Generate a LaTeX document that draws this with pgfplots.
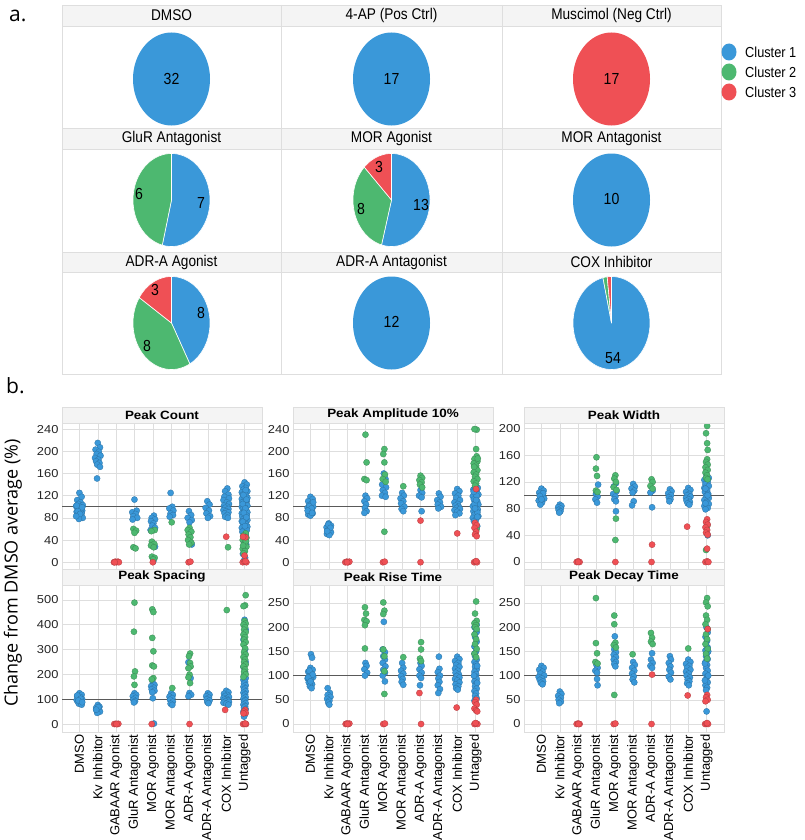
\documentclass[border=0pt]{standalone}
\usepackage{fontspec}
\setmainfont{Liberation Sans}
\newfontfamily\condfont[FakeStretch=0.88]{Liberation Sans}
\newfontfamily\widefont[FakeStretch=1.12]{Liberation Sans}
\newfontfamily\labfont{Open Sans}
\usepackage{pgfplots}
\pgfplotsset{compat=1.18}
\definecolor{cA}{HTML}{3A98D9}
\definecolor{cB}{HTML}{4DB870}
\definecolor{cC}{HTML}{EF5055}
\definecolor{hdr}{HTML}{F4F4F4}
\definecolor{gridc}{HTML}{DEDEDE}
\newcommand{\fs}[1]{\fontsize{#1}{#1}\selectfont}
% pie wedge from angle #3 to #4 (ascending), centre (#1,#2), colour #5
\newcommand{\wedgeP}[5]{\addplot[fill=#5, draw=white, line width=0.6pt, domain=#3:#4, samples=73, variable=\t] ({#1+38.5*cos(\t)},{#2+46.5*sin(\t)}) -- (axis cs:#1,#2) -- cycle;}
\newcommand{\fullP}[3]{\addplot[fill=#3, draw=none, domain=0:360, samples=121, variable=\t] ({#1+38.5*cos(\t)},{#2+46.5*sin(\t)}) -- cycle;}
\pgfplotsset{
  strip/.style={scale only axis, width=200pt, height=147pt, xmin=-0.95, xmax=9.95,
    xtick={0,...,9}, grid=major, major grid style={draw=gridc, line width=0.5pt},
    axis line style={draw=gridc}, major tick length=0pt,
    /pgf/number format/assume math mode=true,
    yticklabel style={font=\widefont\fs{11.5}, text=black!85},
    every axis title/.style={at={(0.5,1)}, anchor=south, yshift=0pt, fill=hdr, draw=gridc,
      minimum width=200pt, minimum height=16pt, inner sep=0pt, font=\widefont\bfseries\fs{12}}},
  toprow/.style={xticklabels={}},
  botrow/.style={xticklabels={DMSO, Kv Inhibitor, GABAAR Agonist, GluR Antagonist, MOR Agonist, MOR Antagonist, ADR-A Agonist, ADR-A Antagonist, COX Inhibitor, Untagged},
    xticklabel style={rotate=90, anchor=east, font=\fs{13}, text=black, inner sep=2.5pt}},
  pA/.style={only marks, mark=*, mark size=3.1pt, mark options={fill=cA, draw=cA!75!black, line width=0.3pt}},
  pB/.style={only marks, mark=*, mark size=3.1pt, mark options={fill=cB, draw=cB!75!black, line width=0.3pt}},
  pC/.style={only marks, mark=*, mark size=3.1pt, mark options={fill=cC, draw=cC!75!black, line width=0.3pt}},
  refl/.style={black!65, line width=1.3pt, mark=none}
}
\begin{document}
\begin{tikzpicture}
\useasboundingbox (0,0) rectangle (805pt,-840pt);
% ---------------- part a ----------------
\node[anchor=base west, font=\labfont\fs{21}, inner sep=0pt] at (9pt,-22pt) {a.};
\fill[hdr] (62pt,-5pt) rectangle (721pt,-26pt);
\fill[hdr] (62pt,-128pt) rectangle (721pt,-149pt);
\fill[hdr] (62pt,-252pt) rectangle (721pt,-272pt);
\draw[gridc, line width=0.6pt] (62pt,-5pt) rectangle (721pt,-374pt);
\foreach \yy in {26,128,149,252,272} {\draw[gridc, line width=0.6pt] (62pt,-\yy pt) -- (721pt,-\yy pt);}
\foreach \xx in {281,502} {\draw[gridc, line width=0.6pt] (\xx pt,-5pt) -- (\xx pt,-374pt);}
\begin{scope}[font=\condfont\fs{15.5}]
\node at (171.5pt,-15.5pt) {DMSO};
\node at (391.5pt,-15.5pt) {4-AP (Pos Ctrl)};
\node at (611.5pt,-15.5pt) {Muscimol (Neg Ctrl)};
\node at (171.5pt,-138.5pt) {GluR Antagonist};
\node at (391.5pt,-138.5pt) {MOR Agonist};
\node at (611.5pt,-138.5pt) {MOR Antagonist};
\node at (171.5pt,-262pt) {ADR-A Agonist};
\node at (391.5pt,-262pt) {ADR-A Antagonist};
\node at (611.5pt,-262pt) {COX Inhibitor};
\end{scope}
\begin{axis}[hide axis, scale only axis, width=659pt, height=369pt,
  xmin=62, xmax=721, ymin=-374, ymax=-5, at={(62pt,-374pt)}, anchor=south west, clip=false]
% DMSO: 32 / 0 / 0
\fullP{171.5}{-79}{cA}
% 4-AP: 17 / 0 / 0
\fullP{391.5}{-79}{cA}
% Muscimol: 0 / 0 / 17
\fullP{611.5}{-79}{cC}
% GluR Antagonist: 7 / 6 / 0  (clockwise from top)
\wedgeP{171.5}{-200}{-103.846}{90}{cA}
\wedgeP{171.5}{-200}{-270}{-103.846}{cB}
% MOR Agonist: 13 / 8 / 3
\wedgeP{391.5}{-200}{-105}{90}{cA}
\wedgeP{391.5}{-200}{-225}{-105}{cB}
\wedgeP{391.5}{-200}{-270}{-225}{cC}
% MOR Antagonist: 10 / 0 / 0
\fullP{611.5}{-200}{cA}
% ADR-A Agonist: 8 / 8 / 3
\wedgeP{171.5}{-323}{-61.579}{90}{cA}
\wedgeP{171.5}{-323}{-213.158}{-61.579}{cB}
\wedgeP{171.5}{-323}{-270}{-213.158}{cC}
% ADR-A Antagonist: 12 / 0 / 0
\fullP{391.5}{-323}{cA}
% COX Inhibitor: 54 / 1 / 1
\wedgeP{611.5}{-323}{-257.143}{90}{cA}
\wedgeP{611.5}{-323}{-263.571}{-257.143}{cB}
\wedgeP{611.5}{-323}{-270}{-263.571}{cC}
\node[font=\condfont\fs{16}] at (axis cs:171.5,-79) {32};
\node[font=\condfont\fs{16}] at (axis cs:391.5,-79) {17};
\node[font=\condfont\fs{16}] at (axis cs:611.5,-79) {17};
\node[font=\condfont\fs{16}] at (axis cs:139,-194) {6};
\node[font=\condfont\fs{16}] at (axis cs:201,-203) {7};
\node[font=\condfont\fs{16}] at (axis cs:379,-167) {3};
\node[font=\condfont\fs{16}] at (axis cs:361,-209) {8};
\node[font=\condfont\fs{16}] at (axis cs:421,-205) {13};
\node[font=\condfont\fs{16}] at (axis cs:611.5,-199) {10};
\node[font=\condfont\fs{16}] at (axis cs:155,-290) {3};
\node[font=\condfont\fs{16}] at (axis cs:201,-313) {8};
\node[font=\condfont\fs{16}] at (axis cs:147,-346) {8};
\node[font=\condfont\fs{16}] at (axis cs:391.5,-322) {12};
\node[font=\condfont\fs{16}] at (axis cs:613,-358) {54};
\end{axis}
% legend
\fill[cA] (729pt,-52pt) ellipse[x radius=7.5pt, y radius=8.5pt];
\fill[cB] (729pt,-72pt) ellipse[x radius=7.5pt, y radius=8.5pt];
\fill[cC] (729pt,-92pt) ellipse[x radius=7.5pt, y radius=8.5pt];
\begin{scope}[font=\condfont\fs{14.5}]
\node[anchor=west, inner sep=0pt] at (745pt,-52pt) {Cluster 1};
\node[anchor=west, inner sep=0pt] at (745pt,-72pt) {Cluster 2};
\node[anchor=west, inner sep=0pt] at (745pt,-92pt) {Cluster 3};
\end{scope}
% ---------------- part b ----------------
\node[anchor=base west, font=\labfont\fs{21}, inner sep=0pt] at (6pt,-393pt) {b.};
\node[rotate=90, font=\labfont\fs{18}] at (13pt,-573pt) {Change from DMSO average (\%)};

% Peak Count
\begin{axis}[strip, toprow, at={(62pt,-423pt)}, anchor=north west, title={Peak Count},
  ymin=-14, ymax=251, ytick={0,40,...,240}]
\addplot[pA] coordinates {(0,125) (0.12,118) (-0.12,112) (0.06,108) (-0.06,105) (0.18,103) (-0.18,101) (0.03,100) (-0.09,98) (0.09,97) (-0.03,95) (0.15,93) (-0.15,91) (0,90) (0.12,88) (-0.12,86) (0.06,84) (-0.06,82) (0.18,80) (-0.03,78) (0.09,95) (-0.15,102) (0.15,99) (-0.09,92) (0.03,87) (-0.18,83)
(1,215) (1.12,207) (0.88,203) (1.06,199) (0.94,195) (1.15,192) (0.85,188) (1.03,185) (0.91,182) (1.09,179) (0.97,176) (1.12,172) (0.96,151)
(3,113) (3.12,93) (2.88,90) (3.06,87) (2.94,83) (3.15,80) (2.9,77)
(4.06,84) (3.94,80) (4.12,77) (3.9,74) (4.03,70) (3.97,66) (4.12,62) (3.88,58) (4.12,28) (4.03,2)
(4.97,125) (5.06,100) (4.9,97) (5.12,93) (4.97,88) (5.1,85) (4.92,82)
(5.97,92) (6.09,85) (5.9,80) (6.12,76) (6,72) (6.12,32)
(6.97,110) (7.09,104) (6.88,98) (7.06,93) (6.92,88) (7.12,83) (7,80)
(8.06,133) (7.94,128) (8.12,122) (7.9,118) (8.15,115) (7.85,112) (8.03,108) (8.15,105) (7.88,102) (8.06,100) (7.94,98) (8.12,96) (7.85,94) (8,92) (8.12,90) (7.91,88) (8.06,85) (7.94,82) (8.09,80)
(9,144) (9.12,140) (8.88,137) (9.06,134) (8.94,131) (9.15,128) (8.85,126) (9.03,124) (8.91,122) (9.09,120) (8.97,118) (9.15,116) (8.85,114) (9,112) (9.12,110) (8.88,108) (9.06,106) (8.94,104) (9.15,102) (8.85,100) (9.03,98) (8.91,96) (9.09,94) (8.97,92) (9.15,90) (8.85,88) (9,86) (9.12,84) (8.88,82) (9.06,80) (8.94,78) (9.15,76) (8.85,74) (9.03,72) (8.91,70) (9.09,68) (8.97,66) (9.15,64) (8.85,62) (9,60) (9.12,58) (8.88,55) (9.06,50) (8.94,40) (9.09,32) (8.91,15) (9.03,8) (8.97,3) (9.06,130) (8.94,121) (9.1,113) (8.9,105) (9.04,97) (8.96,89) (9.1,81) (8.9,73) (9.02,65)};
\addplot[pB] coordinates {(2.94,60) (3.09,57) (3,53) (2.94,27) (3.06,25)
(4.1,58) (3.92,56) (3.95,37) (4.08,33) (3.9,30) (4.05,27) (3.95,10) (4.1,8) (4.02,5)
(5.03,72)
(6,62) (5.9,58) (6.1,55) (5.95,50) (6.05,45) (5.92,40) (6.1,35) (5.98,32)
(8.1,27)
(9.06,52) (8.94,48) (9.1,44) (8.9,40) (9.03,36) (8.97,32) (9.1,28) (8.9,24) (9.02,20) (8.95,16) (9.08,38) (8.92,30)};
\addplot[pC] coordinates {(1.88,0) (1.95,1) (2.02,0) (2.1,1) (2.15,0) (1.92,0)
(4,0) (5.95,0) (6.05,1) (8,46)
(9.05,45) (8.92,46) (9,12) (8.9,0) (9,1) (9.1,0) (9.05,2)};
\addplot[refl] coordinates {(-0.95,100) (9.95,100)};
\end{axis}

% Peak Amplitude 10%
\begin{axis}[strip, toprow, at={(293pt,-423pt)}, anchor=north west, title={Peak Amplitude 10\%},
  ymin=-14, ymax=251, ytick={0,40,...,240}]
\addplot[pA] coordinates {(0,118) (0.12,114) (-0.12,110) (0.06,106) (-0.06,103) (0.15,100) (-0.15,98) (0.03,96) (-0.09,94) (0.09,92) (-0.03,90) (0.12,88) (-0.12,86) (0,84) (0.15,108) (-0.06,101) (0.06,97) (-0.15,93) (0.09,89)
(1,70) (1.12,66) (0.88,63) (1.06,60) (0.94,57) (1.12,54) (0.9,51) (1.03,49) (0.97,68) (1.09,62) (0.91,56)
(3,120) (3.09,115) (2.94,110) (3.03,104) (2.97,98) (3.06,92) (2.94,89)
(4,160) (4.09,150) (3.91,140) (4.12,135) (3.94,130) (4.06,125) (3.9,120) (4.1,118)
(5,125) (5.09,120) (4.91,115) (5.06,110) (4.94,106) (5.12,100) (4.97,96) (5.06,92)
(6,130) (6.09,125) (5.92,120) (6.06,117) (6.06,92)
(7,124) (7.09,118) (6.91,112) (7.06,108) (6.94,104) (7.12,100) (6.97,97)
(8,132) (8.12,128) (7.88,124) (8.06,120) (7.94,116) (8.15,112) (7.85,108) (8.03,105) (7.91,102) (8.09,100) (7.97,98) (8.15,96) (7.85,94) (8,91) (8.12,88) (7.9,85)
(9,137) (9.12,134) (8.88,131) (9.06,128) (8.94,125) (9.15,122) (8.85,119) (9.03,116) (8.91,113) (9.09,110) (8.97,107) (9.15,104) (8.85,101) (9,98) (9.12,95) (8.88,92) (9.06,89) (8.94,86) (9.15,83) (8.85,80) (9.03,77) (8.91,74) (9.09,65) (8.97,135) (9.06,120) (8.94,105) (9.1,90) (8.9,127) (9.03,112) (8.97,97) (9.1,82)};
\addplot[pB] coordinates {(3,230) (3.06,180) (2.94,150) (3.06,148)
(4.03,204) (3.97,195) (4.03,180) (4.06,158) (3.94,150) (4.1,145) (4.03,55)
(5.06,137)
(6,156) (6.09,152) (5.94,148) (6.06,144) (5.97,140) (6.09,135)
(9.06,239) (8.94,240) (9.03,204) (9.06,191) (8.94,186) (9.1,182) (8.9,178) (9.03,174) (8.97,170) (9.1,166) (8.9,162) (9.03,158) (8.97,154) (9.1,150) (8.9,146) (9.03,142) (8.97,138) (9.06,60) (9.12,187) (8.92,172)};
\addplot[pC] coordinates {(1.9,0) (1.98,1) (2.05,0) (2.12,1) (2,0)
(3.95,0) (4.05,1) (6,75) (6,0) (8,52)
(9.03,132) (8.97,71) (9.06,67) (8.94,62) (9.03,55) (8.97,50) (9.06,47) (8.92,0) (9,1) (9.08,0) (9.03,2)};
\addplot[refl] coordinates {(-0.95,100) (9.95,100)};
\end{axis}

% Peak Width
\begin{axis}[strip, toprow, at={(524pt,-423pt)}, anchor=north west, title={Peak Width},
  ymin=-12, ymax=208.4, ytick={0,40,...,200}]
\addplot[pA] coordinates {(0,110) (0.12,107) (-0.12,104) (0.06,101) (-0.06,98) (0.15,95) (-0.15,92) (0.03,89) (-0.06,86) (0.09,103) (-0.09,99) (0,94)
(1,86) (1.09,84) (0.91,82) (1.06,80) (0.94,78) (1.03,76) (0.97,74)
(3.09,116) (2.97,102) (3.06,98) (2.94,94) (3.03,89)
(4.06,118) (3.94,113) (4.09,106) (3.91,102) (4.03,98) (3.97,94) (4.06,91) (4.06,76)
(5,117) (5.09,113) (4.91,110) (5.06,107) (4.97,104) (5.03,91) (4.94,85)
(6.06,107) (5.94,104) (6.03,82)
(7,109) (7.09,106) (6.91,103) (7.06,100) (6.94,97) (7.03,94) (6.97,91)
(8,111) (8.12,108) (7.88,105) (8.06,102) (7.94,100) (8.12,98) (7.88,96) (8.03,94) (7.91,92) (8.09,90) (7.97,88) (8.06,86)
(9,129) (9.12,126) (8.88,123) (9.06,120) (8.94,117) (9.12,114) (8.88,111) (9.03,108) (8.91,105) (9.09,102) (8.97,99) (9.12,96) (8.88,93) (9,90) (9.12,87) (8.88,84) (9.06,81) (8.94,79) (9.03,56) (9.06,40) (8.94,110) (9.06,100) (8.94,88)};
\addplot[pB] coordinates {(3,157) (2.97,140) (3.03,129) (2.97,107) (3.06,105)
(4.03,130) (3.97,125) (4.06,120) (3.94,112) (4.09,108) (4.06,65) (4.03,33)
(6,124) (6.06,120) (5.94,114) (6.06,110)
(9.03,204) (8.97,193) (9.03,178) (9.06,168) (9.03,154) (8.97,150) (9.06,146) (8.94,142) (9.06,138) (8.94,134) (9.03,130) (8.97,126) (9.06,124) (9.03,54) (8.97,18)};
\addplot[pC] coordinates {(1.92,0) (2,1) (2.08,0) (2,0)
(4.03,0) (6.03,26) (6,0) (7.94,53)
(9.03,64) (8.97,60) (9.06,56) (8.94,52) (9.03,48) (8.97,44) (9.06,41) (9.03,20) (8.94,0) (9.03,1) (9.1,0)};
\addplot[refl] coordinates {(-0.95,100) (9.95,100)};
\end{axis}

% Peak Spacing
\begin{axis}[strip, botrow, at={(62pt,-585pt)}, anchor=north west, title={Peak Spacing},
  ymin=-32, ymax=560, ytick={0,100,...,500}]
\addplot[pA] coordinates {(0,124) (0.12,118) (-0.12,112) (0.06,108) (-0.06,104) (0.15,100) (-0.15,97) (0.03,94) (-0.09,90) (0.09,86) (-0.03,82) (0.12,78) (-0.12,115) (0.06,102) (-0.06,95) (0.15,88)
(1,77) (1.09,70) (0.91,65) (1.06,60) (0.94,55) (1.12,50) (0.97,45) (1.03,68) (0.91,58)
(3,124) (3.09,118) (2.91,112) (3.06,105) (2.94,98) (3.03,92) (2.97,87)
(4,165) (4.09,158) (3.91,152) (4.06,146) (3.94,140) (4.09,134) (3.97,128) (4,104) (4.06,2)
(5,124) (5.09,117) (4.91,110) (5.06,104) (4.94,98) (5.09,90) (4.97,82) (5.06,77)
(5.94,249) (6.06,185) (6,125) (6.09,118) (5.94,112)
(7,124) (7.09,118) (6.91,112) (7.06,106) (6.94,100) (7.09,95) (6.97,89) (7.03,84)
(8,134) (8.12,128) (7.88,122) (8.06,117) (7.94,113) (8.15,109) (7.85,105) (8.03,101) (7.91,98) (8.09,95) (7.97,92) (8.15,89) (7.85,86) (8,82) (8.12,78)
(9,420) (9.06,380) (8.94,340) (9.03,300) (8.97,270) (9.06,250) (8.94,230) (9.03,210) (8.97,195) (9.06,185) (8.94,178) (9.03,170) (8.97,163) (9.06,156) (8.94,150) (9.03,144) (8.97,138) (9.06,132) (8.94,126) (9.03,120) (8.97,114) (9.06,108) (8.94,102) (9.03,96) (8.97,90) (9.06,84) (8.94,78) (9.03,72) (8.97,66) (9.06,60) (8.94,50) (9.03,40) (8.97,30)};
\addplot[pB] coordinates {(3,489) (2.97,372) (3.03,212) (2.97,192) (3,158)
(3.97,462) (4.03,451) (3.97,347) (4.03,293) (3.97,236) (4.06,232) (4.03,185) (3.94,180)
(5.06,145)
(6.03,284) (5.97,273) (6.03,246) (6.06,232) (5.94,225) (6,199) (5.94,188) (6.03,165)
(8.03,459)
(9.06,519) (9.03,478) (8.94,475) (9,415) (9.06,405) (8.94,400) (9.03,390) (8.97,380) (9.06,370) (8.94,360) (9.03,350) (8.97,340) (9.06,330) (8.94,320) (9.03,305) (8.97,290) (9.06,280) (8.94,270) (9.03,260) (8.97,250) (9.06,240) (8.94,232) (9.03,220) (8.97,210) (9.06,200) (8.94,190)};
\addplot[pC] coordinates {(1.9,0) (1.98,1) (2.06,0) (2.12,1) (2.02,0)
(3.94,0) (6,0) (7.94,57)
(9.03,57) (8.97,50) (9.06,45) (8.94,43) (8.92,0) (9,1) (9.08,0) (9.04,2)};
\addplot[refl] coordinates {(-0.95,100) (9.95,100)};
\end{axis}

% Peak Rise Time
\begin{axis}[strip, botrow, at={(293pt,-585pt)}, anchor=north west, title={Peak Rise Time},
  ymin=-16.5, ymax=287, ytick={0,50,...,250}]
\addplot[pA] coordinates {(0.03,144) (0.09,137) (0,116) (0.12,112) (-0.12,108) (0.06,104) (-0.06,100) (0.15,97) (-0.15,94) (0.03,90) (-0.09,86) (0.09,82) (-0.03,78) (0.06,74) (-0.06,110) (0.12,102) (-0.12,96) (0,88)
(0.94,74) (1.06,64) (0.94,60) (1.09,56) (0.91,52) (1.03,48) (0.97,44) (1.03,40)
(3,126) (3.06,120) (2.94,113) (3.09,106) (2.97,100)
(4,211) (3.94,154) (4.06,148) (3.97,140) (4.06,133) (3.94,126) (4.09,119) (3.97,112) (4.06,106) (3.94,100) (4.06,88)
(5,126) (5.06,116) (4.94,110) (5.06,104) (4.94,99) (5.03,93) (4.97,87) (5.06,81)
(6,126) (6.06,120) (5.94,113) (6.06,106) (5.94,100) (6.03,95) (5.97,80)
(7,139) (7.03,114) (6.94,107) (7.06,100) (6.97,94) (7.03,87) (6.94,80) (7.06,72) (6.97,64)
(8,139) (8.12,134) (7.88,130) (8.06,126) (7.94,122) (8.12,118) (7.88,114) (8.03,110) (7.91,106) (8.09,102) (7.97,99) (8.12,96) (7.88,93) (8,90) (8.12,86) (7.91,82) (8.06,78) (7.94,74) (8.03,71)
(9,210) (9.06,205) (8.94,200) (9.03,190) (8.97,180) (9.06,170) (8.94,160) (9.03,150) (8.97,140) (9.06,133) (8.94,128) (9.03,123) (8.97,118) (9.06,113) (8.94,108) (9.03,103) (8.97,98) (9.06,93) (8.94,88) (9.03,83) (8.97,78) (9.06,73) (8.94,68) (9.03,63) (8.97,58) (9.06,53) (8.94,48) (9.06,190) (8.94,145) (9.09,120) (8.91,100) (9.09,85)};
\addplot[pB] coordinates {(2.97,241) (3.03,228) (2.94,215) (3.06,212) (2.97,204) (2.97,156)
(3.97,251) (4.03,234) (3.97,227) (3.97,154) (4.03,140) (4.03,109) (4.03,62)
(5.06,138)
(6.03,169) (6.03,154) (5.97,135) (6.03,130)
(9.03,253) (8.97,228) (9.06,213) (8.94,208) (9.03,204) (8.97,200) (9.06,196) (8.94,185) (9.03,175) (8.97,165) (9.06,155) (8.94,145) (9.03,138)};
\addplot[pC] coordinates {(1.92,0) (1.98,1) (2.06,0) (2.12,1) (2.02,0)
(3.97,0) (4.06,1) (5.94,64) (6.03,0) (7.97,34)
(9.03,50) (8.97,45) (9.06,40) (8.94,32) (9.03,28) (9.09,26) (8.94,0) (9.03,1) (9.1,0) (9,2)};
\addplot[refl] coordinates {(-0.95,100) (9.95,100)};
\end{axis}

% Peak Decay Time
\begin{axis}[strip, botrow, at={(524pt,-585pt)}, anchor=north west, title={Peak Decay Time},
  ymin=-16.5, ymax=287, ytick={0,50,...,250}]
\addplot[pA] coordinates {(0,120) (0.12,116) (-0.12,112) (0.06,108) (-0.06,104) (0.15,100) (-0.15,97) (0.03,94) (-0.09,91) (0.09,88) (-0.03,85) (0.06,82)
(1,67) (1.09,62) (0.91,58) (1.06,54) (0.94,50) (1.06,46) (0.97,43)
(3,122) (3.06,116) (2.94,110) (3.03,106) (3.03,93) (3.06,80)
(4,181) (3.97,154) (4.06,148) (3.94,143) (4.06,138) (3.94,133) (4.06,128) (3.97,124) (4.03,119)
(5,128) (5.09,122) (4.94,116) (5.06,110) (4.94,104) (5.03,98) (4.97,92) (5.06,86)
(6.03,146) (5.97,133) (6.06,126) (5.94,120) (6.03,116)
(7,140) (7.06,133) (6.94,126) (7.03,119) (6.97,112) (7.06,106) (6.94,98) (7.03,92)
(8,133) (8.12,128) (7.88,124) (8.06,120) (7.94,116) (8.12,112) (7.88,108) (8.03,104) (7.91,100) (8.09,96) (7.97,92) (8.06,88) (7.94,84) (8.03,80)
(9,199) (9.06,189) (8.94,180) (9.03,172) (8.97,165) (9.06,158) (8.94,152) (9.03,146) (8.97,140) (9.06,134) (8.94,128) (9.03,122) (8.97,116) (9.06,110) (8.94,104) (9.03,98) (8.97,92) (9.06,86) (8.94,80) (9.03,75) (8.97,70) (9,26) (9.09,150) (8.91,125) (9.09,100) (8.91,90)};
\addplot[pB] coordinates {(2.97,260) (2.97,167) (3.03,146) (2.94,128) (3.06,125)
(3.97,224) (3.97,206) (4.03,168) (3.94,163) (4.06,158) (3.97,60)
(4.97,144)
(5.97,188) (6.03,178) (5.97,170) (6.06,165)
(8,156)
(9.03,260) (8.97,251) (9.06,243) (8.97,224) (9.03,215) (8.94,206) (9.06,196) (8.97,185) (9.03,175) (8.94,165) (9.06,155) (8.97,145) (9.03,135)};
\addplot[pC] coordinates {(1.92,0) (2,1) (2.08,0) (2.02,0)
(3.94,0) (4.03,1) (6.03,102) (6,0) (7.97,59)
(9.06,196) (9.03,60) (8.97,55) (9.06,50) (8.94,47) (8.92,0) (9,1) (9.08,0) (9.03,2)};
\addplot[refl] coordinates {(-0.95,100) (9.95,100)};
\end{axis}
\end{tikzpicture}
\end{document}
